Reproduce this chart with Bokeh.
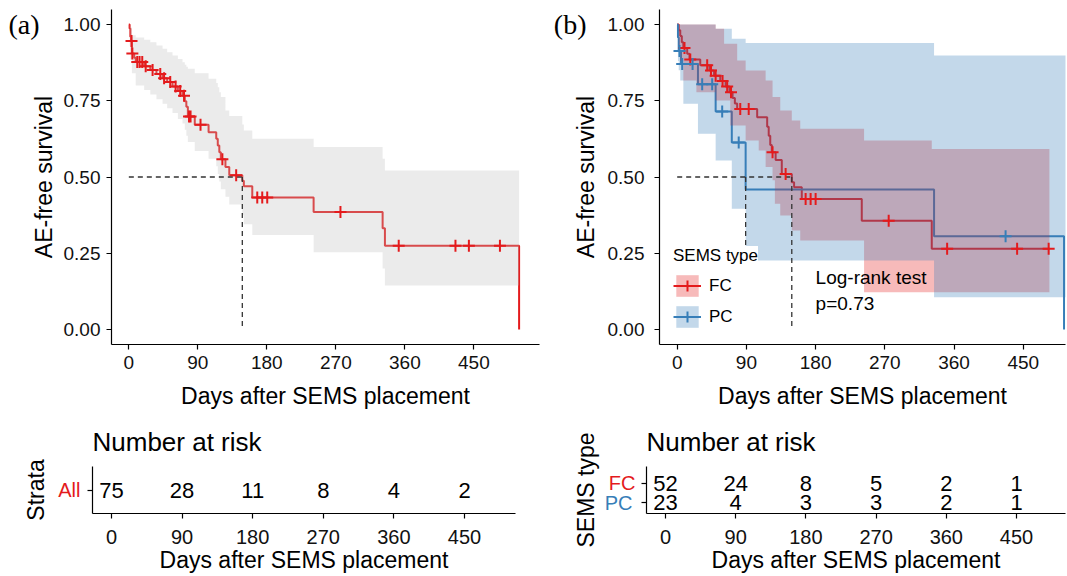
import numpy as np
from bokeh.plotting import figure
from bokeh.models import (Range1d, FixedTicker, PrintfTickFormatter, Label, Legend, LegendItem,
                          LinearAxis)
from bokeh.layouts import column, row
from bokeh.embed import file_html
from bokeh.resources import INLINE
from bokeh.core.properties import value

# ---------------- data ----------------
x_ticks = [0, 90, 180, 270, 360, 450]
y_ticks = [0.0, 0.25, 0.5, 0.75, 1.0]

# (a) all patients
all_time = [0, 1, 2, 3, 4, 7, 9, 20, 28, 36, 44, 50, 57, 64, 70, 73, 75, 77, 86, 104,
            114, 116, 118, 120, 126, 131, 148, 150, 161, 241, 331, 334, 509]
all_surv = [1.0, 0.987, 0.960, 0.946, 0.905, 0.891, 0.877, 0.863, 0.851, 0.838, 0.824, 0.811,
            0.797, 0.782, 0.766, 0.748, 0.730, 0.698, 0.671, 0.647, 0.625, 0.603, 0.581, 0.558,
            0.533, 0.506, 0.488, 0.470, 0.433, 0.385, 0.332, 0.275, 0.0]
all_cens = [3.5, 4.6, 11, 14, 17.5, 22, 31, 41, 46, 54, 61, 67, 72, 78.5, 80.5, 93.5, 122, 140,
            167.5, 174, 180.5, 276, 352, 426, 443.5, 484]
all_band_time = [0, 1, 2, 4, 9, 20, 28, 36, 44, 50, 57, 64, 70, 73, 75, 77, 86, 104, 114, 116,
                 118, 120, 126, 131, 148, 150, 161, 241, 331, 334, 509]
all_band_hi = [1.0, 1.0, 0.99, 0.965, 0.957, 0.950, 0.942, 0.931, 0.920, 0.909, 0.898, 0.887,
               0.876, 0.868, 0.861, 0.855, 0.840, 0.822, 0.808, 0.794, 0.778, 0.762, 0.718, 0.700,
               0.672, 0.652, 0.625, 0.598, 0.560, 0.521, 0.521]
all_band_lo = [1.0, 0.93, 0.885, 0.84, 0.80, 0.785, 0.77, 0.755, 0.74, 0.725, 0.71, 0.69, 0.675,
               0.655, 0.635, 0.615, 0.585, 0.56, 0.535, 0.51, 0.485, 0.46, 0.435, 0.41, 0.375,
               0.345, 0.31, 0.253, 0.20, 0.144, 0.144]

# (b) FC stents
fc_time = [0, 2, 4, 6, 8, 13, 16, 30, 42, 48, 56, 63, 68, 72, 75, 78, 104, 117, 119, 121,
           123, 128, 136, 149, 152, 162, 240, 331, 484]
fc_surv = [1.0, 0.981, 0.962, 0.942, 0.923, 0.904, 0.885, 0.866, 0.849, 0.832, 0.815, 0.797,
           0.778, 0.759, 0.741, 0.723, 0.696, 0.665, 0.635, 0.605, 0.581, 0.556, 0.510, 0.483,
           0.466, 0.428, 0.357, 0.265, 0.265]
fc_cens = [9.5, 17, 39, 44, 50, 59, 65, 70, 82, 93, 124, 141, 167, 173.5, 180, 275, 351, 442, 483]
fc_band_time = [0, 2, 4, 8, 25, 50, 61, 69, 78, 89, 106, 115, 124, 127, 134, 149, 160, 243, 331, 484]
fc_band_hi = [1.0, 1.0, 1.0, 1.0, 1.0, 0.986, 0.937, 0.937, 0.882, 0.849, 0.849, 0.816, 0.762,
              0.762, 0.718, 0.685, 0.658, 0.620, 0.592, 0.592]
fc_band_lo = [1.0, 0.93, 0.88, 0.816, 0.778, 0.751, 0.751, 0.669, 0.669, 0.62, 0.587, 0.533,
              0.489, 0.412, 0.374, 0.325, 0.292, 0.122, 0.122, 0.122]

# (b) PC stents
pc_time = [0, 1, 2, 5, 27, 50, 71, 89, 334, 503]
pc_surv = [1.0, 0.957, 0.913, 0.870, 0.804, 0.715, 0.613, 0.459, 0.306, 0.0]
pc_cens = [3, 6.5, 20, 32.5, 45.5, 58.5, 80, 427]
pc_band_time = [0, 1, 2, 4, 8, 27, 50, 71, 89, 334, 515]
pc_band_hi = [1.0, 1.0, 1.0, 1.0, 1.0, 1.0, 0.986, 0.953, 0.939, 0.898, 0.898]
pc_band_lo = [1.0, 0.88, 0.85, 0.816, 0.74, 0.642, 0.554, 0.396, 0.226, 0.106, 0.106]

# number at risk
risk_time = [0, 90, 180, 270, 360, 450]
risk_all = [75, 28, 11, 8, 4, 2]
risk_fc = [52, 24, 8, 5, 2, 1]
risk_pc = [23, 4, 3, 3, 2, 1]

strata_a = ["All"]
strata_b = ["FC", "PC"]

# ---------------- style ----------------
FONT = "Liberation Sans"
SERIF = "Liberation Serif"
RED = "#E41A1C"
BLUE = "#377EB8"
GRAY_BAND = "#BEBEBE"
DASH = "#333333"


def step_value(times, surv, t):
    idx = np.searchsorted(np.asarray(times, dtype=float), np.asarray(t, dtype=float), side="right") - 1
    return np.asarray(surv)[idx]


def median_time(times, surv):
    s = np.asarray(surv)
    return float(np.asarray(times)[np.argmax(s <= 0.5)])


def style_axis(ax, tick_size, label_size, label_standoff, title_standoff):
    ax.axis_line_color = "black"
    ax.axis_line_width = 1.2
    ax.major_tick_line_color = "black"
    ax.major_tick_line_width = 1.2
    ax.major_tick_out = 5
    ax.major_tick_in = 0
    ax.minor_tick_out = 0
    ax.minor_tick_in = 0
    ax.minor_tick_line_color = None
    ax.major_label_text_font = FONT
    ax.major_label_text_font_size = tick_size
    ax.major_label_text_color = "#111111"
    ax.major_label_standoff = label_standoff
    ax.axis_label_text_font = FONT
    ax.axis_label_text_font_size = label_size
    ax.axis_label_text_font_style = "normal"
    ax.axis_label_text_color = "black"
    ax.axis_label_standoff = title_standoff


def bare_axis(ticks, overrides, font, size, color, standoff):
    """An outer left axis with no rule and no ticks, used only for its labels."""
    ax = LinearAxis(ticker=FixedTicker(ticks=ticks), major_label_overrides=overrides)
    ax.axis_line_color = None
    ax.major_tick_line_color = None
    ax.minor_tick_line_color = None
    ax.major_tick_out = 0
    ax.major_tick_in = 0
    ax.minor_tick_out = 0
    ax.minor_tick_in = 0
    ax.major_label_standoff = standoff
    ax.major_label_text_font = font
    ax.major_label_text_font_size = size
    ax.major_label_text_color = color
    return ax


def km_figure(width, left, right, x_start, x_end, tag, ylab_standoff, ytick_standoff, tag_standoff):
    p = figure(width=width, height=414, x_range=Range1d(x_start, x_end),
               y_range=Range1d(-0.049, 1.049), output_backend="svg", toolbar_location=None,
               min_border_left=left, min_border_right=right, min_border_top=9, min_border_bottom=70)
    p.outline_line_color = None
    p.xgrid.visible = False
    p.ygrid.visible = False
    p.xaxis.ticker = FixedTicker(ticks=x_ticks)
    p.yaxis.ticker = FixedTicker(ticks=y_ticks)
    p.yaxis.formatter = PrintfTickFormatter(format="%.2f")
    p.xaxis.axis_label = "Days after SEMS placement"
    p.yaxis.axis_label = "AE-free survival"
    style_axis(p.xaxis[0], "19px", "23px", 6, 11)
    style_axis(p.yaxis[0], "19px", "23px", ytick_standoff, ylab_standoff)
    # panel tag "(a)" / "(b)" shown as the single label of an outer left axis
    p.add_layout(bare_axis([1.0], {1.0: tag}, SERIF, "28px", "black", tag_standoff), "left")
    return p


def risk_figure(width, left, right, x_start, x_end, y_start, y_end):
    p = figure(width=width, height=161, x_range=Range1d(x_start, x_end),
               y_range=Range1d(y_start, y_end), output_backend="svg", toolbar_location=None,
               min_border_left=left, min_border_right=right, min_border_top=51, min_border_bottom=62)
    p.outline_line_color = None
    p.xgrid.visible = False
    p.ygrid.visible = False
    p.xaxis.ticker = FixedTicker(ticks=x_ticks)
    p.xaxis.axis_label = "Days after SEMS placement"
    style_axis(p.xaxis[0], "20px", "23px", 11, 0)
    p.title.text = "Number at risk"
    p.title.text_font = FONT
    p.title.text_font_size = "26px"
    p.title.text_font_style = "normal"
    p.title.text_color = "black"
    p.title.align = "left"
    p.title.offset = 0
    p.title.standoff = 20
    return p


# ---------------- panel (a) ----------------
pa = km_figure(548, 111, 9, -22.6, 535.6, "(a)", 4, 6, -12)
pa.step(all_time, all_surv, mode="after", line_color=RED, line_width=2)
pa.varea_step(x=all_band_time, y1=all_band_lo, y2=all_band_hi, step_mode="after",
              fill_color=GRAY_BAND, fill_alpha=0.3)
med_a = median_time(all_time, all_surv)
pa.line([0, med_a], [0.5, 0.5], line_color=DASH, line_width=1.3, line_dash="5 4")
pa.line([med_a, med_a], [0.5, 0.0], line_color=DASH, line_width=1.3, line_dash="5 4")
pa.scatter(all_cens, step_value(all_time, all_surv, all_cens), marker="cross", size=12,
           line_color=RED, line_width=2)

# ---------------- panel (b) ----------------
pb = km_figure(518, 111, 1, -23.0, 504.9, "(b)", 6, 10, -17)
fc_line = pb.step(fc_time, fc_surv, mode="after", line_color=RED, line_width=2)
pc_line = pb.step(pc_time, pc_surv, mode="after", line_color=BLUE, line_width=2)
fc_band = pb.varea_step(x=fc_band_time, y1=fc_band_lo, y2=fc_band_hi, step_mode="after",
                        fill_color=RED, fill_alpha=0.3)
pc_band = pb.varea_step(x=pc_band_time, y1=pc_band_lo, y2=pc_band_hi, step_mode="after",
                        fill_color=BLUE, fill_alpha=0.3)
med_fc = median_time(fc_time, fc_surv)
med_pc = median_time(pc_time, pc_surv)
pb.line([0, max(med_fc, med_pc)], [0.5, 0.5], line_color=DASH, line_width=1.3, line_dash="5 4")
for m in (med_fc, med_pc):
    pb.line([m, m], [0.5, 0.0], line_color=DASH, line_width=1.3, line_dash="5 4")
fc_pts = pb.scatter(fc_cens, step_value(fc_time, fc_surv, fc_cens), marker="cross", size=12,
                    line_color=RED, line_width=2)
pc_pts = pb.scatter(pc_cens, step_value(pc_time, pc_surv, pc_cens), marker="cross", size=12,
                    line_color=BLUE, line_width=2)

legend = Legend(items=[LegendItem(label=strata_b[0], renderers=[fc_band, fc_line, fc_pts]),
                       LegendItem(label=strata_b[1], renderers=[pc_band, pc_line, pc_pts])],
                location=(14, 14), title="SEMS type",
                title_text_font=FONT, title_text_font_size="17px", title_text_font_style="normal",
                title_text_color="black", title_standoff=6,
                label_text_font=FONT, label_text_font_size="17px",
                label_text_color="black", glyph_width=28, glyph_height=27, label_height=27,
                label_standoff=8, spacing=4, padding=6, margin=0, border_line_color=None,
                background_fill_color="white", background_fill_alpha=1.0)
pb.add_layout(legend)
pb.add_layout(Label(x=180, y=0.169, text="Log-rank test", text_font=FONT, text_font_size="19px",
                    text_baseline="middle", text_align="left", text_color="black"))
pb.add_layout(Label(x=180, y=0.085, text="p=0.73", text_font=FONT, text_font_size="19px",
                    text_baseline="middle", text_align="left", text_color="black"))

# ---------------- risk tables ----------------
ta = risk_figure(548, 92, 33, -24.2, 515.0, 0.5, 1.5)
ta.text(x=risk_time, y=[1] * len(risk_time), text=[str(v) for v in risk_all],
        text_align="center", text_baseline="middle", text_font=value(FONT),
        text_font_size="22px", text_color="black")
ya = ta.yaxis[0]
ya.ticker = FixedTicker(ticks=[1])
ya.major_label_overrides = {1: strata_a[0]}
ya.axis_label = "Strata"
style_axis(ya, "20px", "23px", 7, 6)
ya.major_label_text_color = RED

tb = risk_figure(518, 98, 1, -24.4, 512.8, 0.45, 2.85)
tb.text(x=risk_time, y=[2] * len(risk_time), text=[str(v) for v in risk_fc],
        text_align="center", text_baseline="middle", text_font=value(FONT),
        text_font_size="22px", text_color="black")
tb.text(x=risk_time, y=[1] * len(risk_time), text=[str(v) for v in risk_pc],
        text_align="center", text_baseline="middle", text_font=value(FONT),
        text_font_size="22px", text_color="black")
yb = tb.yaxis[0]
yb.ticker = FixedTicker(ticks=[2], minor_ticks=[1])
yb.major_label_overrides = {2: strata_b[0]}
style_axis(yb, "20px", "23px", 6, 0)
yb.major_label_text_color = RED
yb.minor_tick_out = 5
yb.minor_tick_line_color = "black"
yb.minor_tick_line_width = 1.2
# second stratum label (blue) on an outer axis pulled back next to the frame
pc_axis = bare_axis([1], {1: strata_b[1]}, FONT, "20px", BLUE, -27)
pc_axis.axis_label = "SEMS type"
pc_axis.axis_label_text_font = FONT
pc_axis.axis_label_text_font_size = "23px"
pc_axis.axis_label_text_font_style = "normal"
pc_axis.axis_label_text_color = "black"
pc_axis.axis_label_standoff = 3
tb.add_layout(pc_axis, "left")

layout = column(row(pa, pb), row(ta, tb))
open("out.html", "w").write(file_html(layout, INLINE))
